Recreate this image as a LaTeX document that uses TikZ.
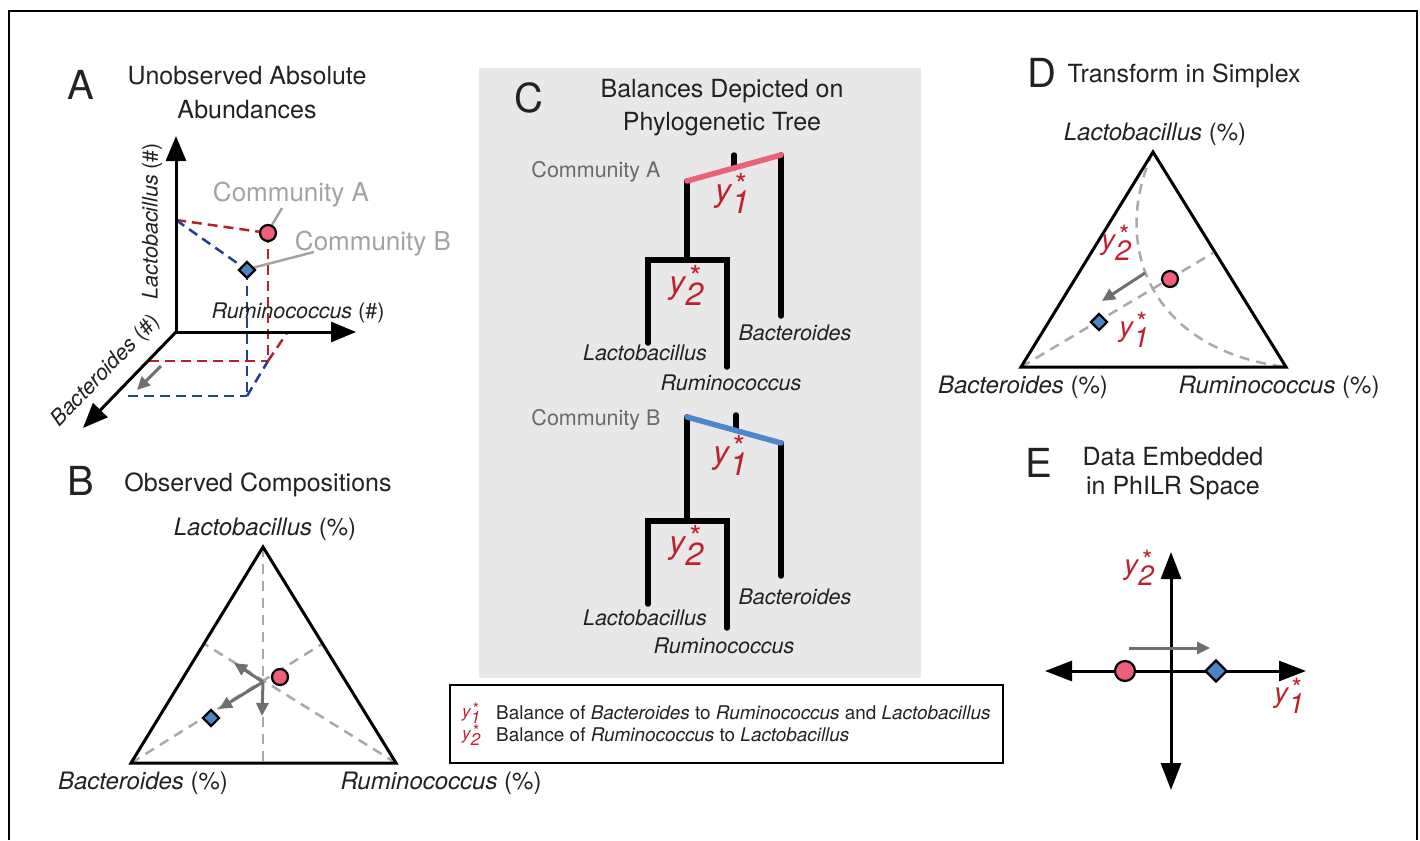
\documentclass[tikz,border=0pt]{standalone}
\usepackage{fontspec}
\setmainfont{TeX Gyre Heros}
\usepackage{graphicx}
\usetikzlibrary{arrows.meta,shapes.geometric}

\definecolor{ink}{HTML}{222222}
\definecolor{pinkfill}{HTML}{EE6079}
\definecolor{bluefill}{HTML}{4A84CA}
\definecolor{reddash}{HTML}{B2232E}
\definecolor{bluedash}{HTML}{22408C}
\definecolor{redtext}{HTML}{C21F2C}
\definecolor{guidegray}{HTML}{A9A9A9}
\definecolor{arrowgray}{HTML}{6F6F6F}
\definecolor{calloutgray}{HTML}{A3A3A3}
\definecolor{panelbg}{HTML}{E8E8E8}
\definecolor{treegray}{HTML}{6A6A6A}
\definecolor{pinkline}{HTML}{E9627A}
\definecolor{blueline}{HTML}{4C86CC}

\newcommand\fsz[2]{\fontsize{#1}{#2}\selectfont}
% balance symbol: y with a star above and a full-size lowered index
\newcommand\ysym[1]{\textit{y}\kern-0.03em\raisebox{-0.40em}{\textit{#1}}\kern-0.44em\raisebox{0.17em}{\scalebox{0.95}{*}}\kern0.07em}

\tikzset{
  letter/.style={font=\fsz{40}{48}, text=ink, inner sep=0pt},
  title/.style={font=\fsz{25}{30}, text=ink, inner sep=0pt},
  axlab/.style={font=\fsz{21.5}{26}, text=ink, inner sep=0pt},
  vlab/.style={font=\fsz{24}{29}, text=ink, inner sep=0pt},
  leaf/.style={font=\fsz{21.5}{26}\itshape, text=ink, inner sep=0pt},
  comm/.style={font=\fsz{21.5}{26}, text=treegray, inner sep=0pt},
  commlight/.style={font=\fsz{26}{31}, text=calloutgray, inner sep=0pt},
  ybig/.style={font=\fsz{32}{36}, text=redtext, inner sep=0pt, anchor=base west},
  ymid/.style={font=\fsz{28}{32}, text=redtext, inner sep=0pt, anchor=base west},
  ysmall/.style={font=\fsz{17}{20}, text=redtext, inner sep=0pt, anchor=base west},
  legtext/.style={font=\fsz{18.9}{22}, text=ink, inner sep=0pt, anchor=base west},
  axis/.style={line width=3pt, -{Triangle[length=25pt,width=20pt]}},
  twoway/.style={line width=3pt, {Triangle[length=27pt,width=20pt]}-{Triangle[length=27pt,width=20pt]}},
  edge/.style={line width=3pt},
  guide/.style={draw=guidegray, line width=2.5pt, dash pattern=on 10pt off 7pt},
  rdash/.style={draw=reddash, line width=2.5pt, dash pattern=on 10pt off 6pt},
  bdash/.style={draw=bluedash, line width=2.5pt, dash pattern=on 10pt off 6pt},
  shiftarrow/.style={draw=arrowgray, line width=3pt, -{Triangle[length=13pt,width=12pt]}},
  callout/.style={draw=calloutgray, line width=2.5pt},
  branch/.style={line width=5.5pt, line cap=round},
  ptA/.style={circle, draw=black, line width=2.2pt, fill=pinkfill, minimum size=16pt, inner sep=0pt},
  ptB/.style={diamond, draw=black, line width=2.2pt, fill=bluefill, minimum size=17pt, inner sep=0pt},
}

\begin{document}
\begin{tikzpicture}[x=1pt, y=-1pt]
\useasboundingbox (0,0) rectangle (1420,840);

% outer frame (open at the bottom)
\coordinate (f1) at (9,840);
\coordinate (f2) at (9,11);
\coordinate (f3) at (1417,11);
\coordinate (f4) at (1417,840);
\draw[line width=1.5pt] (f1) -- (f2) -- (f3) -- (f4);

% ---------------- Panel A: absolute abundances ----------------
\node[letter, anchor=base] (labA) at (81,100) {A};
\node[title, anchor=base] (titA1) at (247,85) {Unobserved Absolute};
\node[title, anchor=base] (titA2) at (247,118) {Abundances};

\coordinate (Ao) at (176,332);
\coordinate (Ay) at (176,136);
\coordinate (Ax) at (356,332);
\coordinate (Az) at (83,428);
\coordinate (Aly) at (176,220);
\coordinate (pAa) at (268,233);
\coordinate (pAb) at (247,270);
\coordinate (Arf) at (268,361);
\coordinate (Arx) at (287,333);
\coordinate (Arz) at (149,361);
\coordinate (Abf) at (247,396);
\coordinate (Abz) at (128,396);

\draw[rdash] (Aly) -- (pAa);
\draw[rdash] (pAa) -- (Arf);
\draw[rdash] (Arz) -- (Arf);
\draw[rdash] (Arf) -- (Arx);
\draw[bdash] (Aly) -- (pAb);
\draw[bdash] (pAb) -- (Abf);
\draw[bdash] (Abz) -- (Abf);
\draw[bdash] (Abf) -- (Arf);

\draw[axis] (Ao) -- (Ay);
\draw[axis] (Ao) -- (Ax);
\draw[axis] (Ao) -- (Az);

\coordinate (As1) at (161,366);
\coordinate (As2) at (137,390);
\draw[shiftarrow] (As1) -- (As2);

\node[axlab, rotate=90] (lacA) at (152,221) {\textit{Lactobacillus} (\#)};
\node[axlab, anchor=base] (rumA) at (298,318) {\textit{Ruminococcus} (\#)};
\node[axlab, rotate=46] (bacA) at (106,371) {\textit{Bacteroides} (\#)};

\node[commlight, anchor=base] (cmA) at (291,201) {Community A};
\node[commlight, anchor=base] (cmB) at (373,250) {Community B};
\coordinate (ca1) at (282,208);
\coordinate (ca2) at (272,225);
\coordinate (cb1) at (314,252);
\coordinate (cb2) at (252,268);
\draw[callout] (ca1) -- (ca2);
\draw[callout] (cb1) -- (cb2);

\node[ptA] (ptAa) at (pAa) {};
\node[ptB] (ptAb) at (pAb) {};

% ---------------- Panel B: observed compositions ----------------
\node[letter, anchor=base] (labB) at (81,495) {B};
\node[title, anchor=base] (titB) at (258,491) {Observed Compositions};

\coordinate (Bt) at (263,547);
\coordinate (Bl) at (131,763);
\coordinate (Br) at (396,763);
\coordinate (Bmr) at (322,644);
\coordinate (Bml) at (203,643);
\coordinate (Bmb) at (263,763);
\draw[guide] (Bt) -- (Bmb);
\draw[guide] (Bl) -- (Bmr);
\draw[guide] (Br) -- (Bml);
\draw[edge] (Bt) -- (Br) -- (Bl) -- cycle;

\coordinate (Bc) at (263,682);
\coordinate (Bs1) at (234,663);
\coordinate (Bs2) at (219,709);
\coordinate (Bs3) at (262,716);
\draw[shiftarrow] (Bc) -- (Bs1);
\draw[shiftarrow] (Bc) -- (Bs2);
\draw[shiftarrow] (Bc) -- (Bs3);

\node[ptA] (ptBa) at (280,677) {};
\node[ptB] (ptBb) at (211,718) {};

\node[vlab, anchor=base] (lacB) at (265,535) {\textit{Lactobacillus} (\%)};
\node[vlab, anchor=base] (bacB) at (143,789) {\textit{Bacteroides} (\%)};
\node[vlab, anchor=base] (rumB) at (441,789) {\textit{Ruminococcus} (\%)};

% ---------------- Panel C: balances on the tree ----------------
\fill[panelbg] (479,68) rectangle (921,678);
\node[letter, anchor=base] (labC) at (529,113) {C};
\node[title, anchor=base] (titC1) at (722,98) {Balances Depicted on};
\node[title, anchor=base] (titC2) at (722,131) {Phylogenetic Tree};

% community A tree
\node[comm, anchor=base] (trA) at (596,177) {Community A};
\coordinate (ta1) at (687,181);
\coordinate (ta2) at (781,155);
\coordinate (ta3) at (734,155);
\coordinate (ta4) at (734,168);
\coordinate (ta5) at (687,260);
\coordinate (ta6) at (648,260);
\coordinate (ta7) at (727,260);
\coordinate (ta8) at (648,343);
\coordinate (ta9) at (727,367);
\coordinate (ta10) at (781,316);
\draw[branch] (ta3) -- (ta4);
\draw[branch] (ta1) -- (ta5);
\draw[branch, line cap=rect] (ta6) -- (ta7);
\draw[branch] (ta6) -- (ta8);
\draw[branch] (ta7) -- (ta9);
\draw[branch] (ta2) -- (ta10);
\draw[branch, pinkline] (ta1) -- (ta2);
\node[ybig] (yA1) at (715,201) {\ysym{1}};
\node[ybig] (yA2) at (669,293) {\ysym{2}};
\node[leaf, anchor=base] (lfA1) at (645,360) {Lactobacillus};
\node[leaf, anchor=base] (lfA2) at (731,390) {Ruminococcus};
\node[leaf, anchor=base] (lfA3) at (795,340) {Bacteroides};

% community B tree
\node[comm, anchor=base] (trB) at (596,425) {Community B};
\coordinate (tb1) at (687,417);
\coordinate (tb2) at (781,443);
\coordinate (tb3) at (736,415);
\coordinate (tb4) at (736,430);
\coordinate (tb5) at (687,521);
\coordinate (tb6) at (648,521);
\coordinate (tb7) at (727,521);
\coordinate (tb8) at (648,604);
\coordinate (tb9) at (727,628);
\coordinate (tb10) at (781,576);
\draw[branch] (tb3) -- (tb4);
\draw[branch] (tb1) -- (tb5);
\draw[branch, line cap=rect] (tb6) -- (tb7);
\draw[branch] (tb6) -- (tb8);
\draw[branch] (tb7) -- (tb9);
\draw[branch] (tb2) -- (tb10);
\draw[branch, blueline] (tb1) -- (tb2);
\node[ybig] (yB1) at (713,463) {\ysym{1}};
\node[ybig] (yB2) at (669,553) {\ysym{2}};
\node[leaf, anchor=base] (lfB1) at (645,625) {Lactobacillus};
\node[leaf, anchor=base] (lfB2) at (724,653) {Ruminococcus};
\node[leaf, anchor=base] (lfB3) at (795,604) {Bacteroides};

% legend
\coordinate (lg1) at (450,685);
\coordinate (lg2) at (1003,763);
\draw[line width=2pt] (lg1) rectangle (lg2);
\node[ysmall] (lgy1) at (462,717) {\ysym{1}};
\node[ysmall] (lgy2) at (462,739) {\ysym{2}};
\node[legtext] (lgt1) at (496,719) {Balance of \textit{Bacteroides} to \textit{Ruminococcus} and \textit{Lactobacillus}};
\node[legtext] (lgt2) at (496,741) {Balance of \textit{Ruminococcus} to \textit{Lactobacillus}};

% ---------------- Panel D: transform in the simplex ----------------
\node[letter, anchor=base] (labD) at (1042,88) {D};
\node[title, anchor=base] (titD) at (1184,83) {Transform in Simplex};

\coordinate (Dt) at (1153,152);
\coordinate (Dl) at (1021,367);
\coordinate (Dr) at (1286,367);
\coordinate (Dm) at (1213,253);
\draw[guide] (Dl) -- (Dm);
\draw[guide] (Dt) .. controls (1110,245) and (1150,350) .. (Dr);
\draw[edge] (Dt) -- (Dr) -- (Dl) -- cycle;

\coordinate (Ds1) at (1145,273);
\coordinate (Ds2) at (1102,301);
\draw[shiftarrow] (Ds1) -- (Ds2);

\node[ptA] (ptDa) at (1170,279) {};
\node[ptB] (ptDb) at (1099,322) {};
\node[ymid] (yD2) at (1101,249) {\ysym{2}};
\node[ymid] (yD1) at (1119,336) {\ysym{1}};

\node[vlab, anchor=base] (lacD) at (1155,140) {\textit{Lactobacillus} (\%)};
\node[vlab, anchor=base] (bacD) at (1023,393) {\textit{Bacteroides} (\%)};
\node[vlab, anchor=base] (rumD) at (1279,393) {\textit{Ruminococcus} (\%)};

% ---------------- Panel E: PhILR coordinates ----------------
\node[letter, anchor=base] (labE) at (1039,477) {E};
\node[title, anchor=base] (titE1) at (1173,465) {Data Embedded};
\node[title, anchor=base] (titE2) at (1173,494) {in PhILR Space};

\coordinate (Eu) at (1171,552);
\coordinate (Ed) at (1171,790);
\coordinate (El) at (1045,671);
\coordinate (Er) at (1306,671);
\draw[twoway] (El) -- (Er);
\draw[twoway] (Ed) -- (Eu);

\coordinate (Es1) at (1129,648);
\coordinate (Es2) at (1210,648);
\draw[shiftarrow] (Es1) -- (Es2);

\node[ptA, minimum size=20pt] (ptEa) at (1125,671) {};
\node[ptB, minimum size=22pt] (ptEb) at (1216,671) {};
\node[ymid] (yE2) at (1124,574) {\ysym{2}};
\node[ymid] (yE1) at (1274,702) {\ysym{1}};

\end{tikzpicture}
\end{document}
